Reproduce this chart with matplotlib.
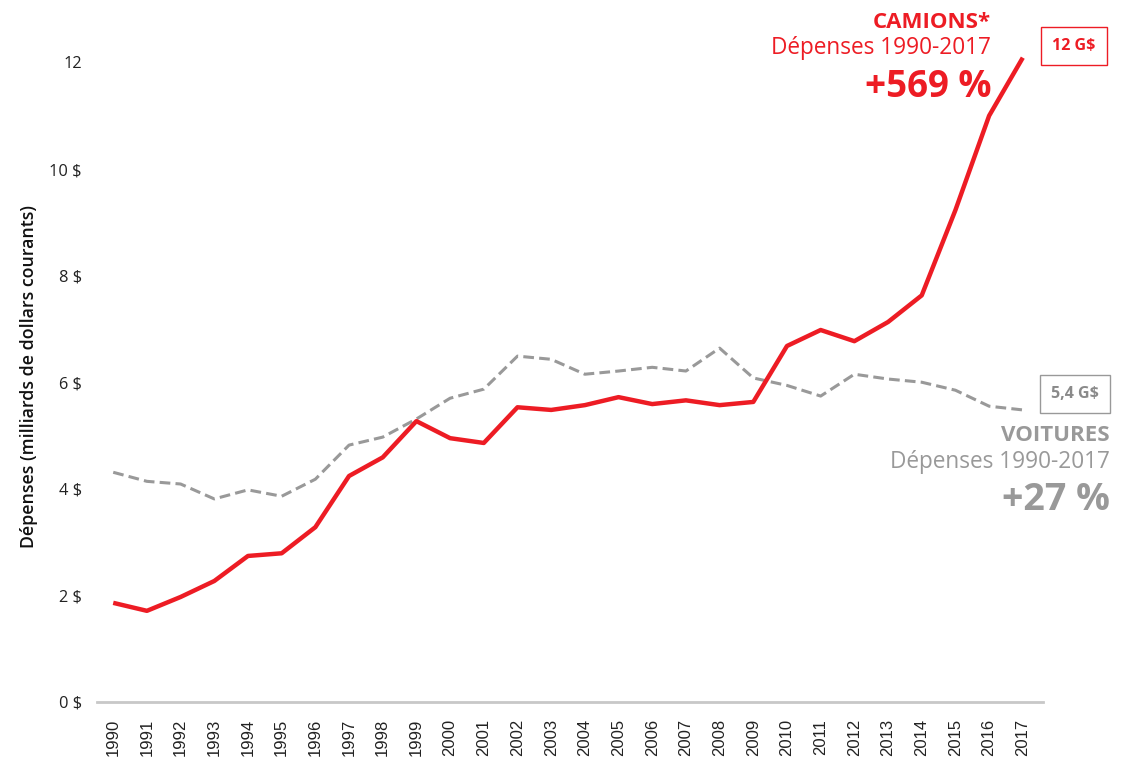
import numpy as np
import matplotlib.pyplot as plt
from matplotlib.ticker import FixedLocator

# Données (milliards de dollars courants)
annees = list(range(1990, 2018))
camions = [1.86, 1.71, 1.97, 2.27, 2.74, 2.79, 3.28, 4.24, 4.59, 5.27,
           4.95, 4.86, 5.53, 5.48, 5.57, 5.72, 5.59, 5.66, 5.57, 5.63,
           6.68, 6.98, 6.77, 7.13, 7.63, 9.23, 11.0, 12.09]
voitures = [4.31, 4.14, 4.09, 3.81, 3.98, 3.86, 4.18, 4.82, 4.97, 5.31,
            5.70, 5.87, 6.49, 6.43, 6.15, 6.21, 6.28, 6.21, 6.64, 6.08,
            5.94, 5.74, 6.15, 6.06, 6.00, 5.85, 5.55, 5.48]
y_ticks = [0, 2, 4, 6, 8, 10, 12]
y_labels = ['0 $', '2 $', '4 $', '6 $', '8 $', '10 $', '12']

rouge = '#ED1C24'
gris = '#999999'

plt.rcParams['font.family'] = ['Open Sans', 'DejaVu Sans']

fig = plt.figure(figsize=(11.22, 7.66), dpi=100)
ax = fig.add_axes([0.0865, 0.0836, 0.8431, 0.9044])

ax.plot(annees, voitures, color=gris, lw=2.2, ls=(0, (3.5, 1.7)))
ax.plot(annees, camions, color=rouge, lw=3.2, solid_capstyle='butt')

ax.set_xlim(1989.52, 2017.6)
ax.set_ylim(0, 13)

for s in ['top', 'right', 'left']:
    ax.spines[s].set_visible(False)
ax.spines['bottom'].set_color('#c8c8c8')
ax.spines['bottom'].set_linewidth(2)

ax.set_xticks(annees)
ax.set_xticklabels([str(a) for a in annees], rotation=90,
                   fontfamily='Liberation Sans', fontsize=12, color='#222222')
ax.yaxis.set_major_locator(FixedLocator(y_ticks))
ax.set_yticklabels(y_labels, fontsize=11.8, color='#222222')
ax.tick_params(axis='both', length=0)
ax.tick_params(axis='x', pad=12)
ax.tick_params(axis='y', pad=11)

ax.set_ylabel('Dépenses (milliards de dollars courants)', fontsize=12.8,
              fontweight='semibold', color='#111111')
ax.yaxis.set_label_coords(-0.062, 0.47)


def px(x, y):
    return x / 1122, 1 - y / 766


# Annotations camions
fig.text(*px(991, 22), 'CAMIONS*', color=rouge, fontsize=16, fontweight='bold',
         ha='right', va='center')
fig.text(*px(991, 48), 'Dépenses 1990-2017', color=rouge, fontsize=16.3,
         ha='right', va='center')
fig.text(*px(991, 87), '+569 %', color=rouge, fontsize=26.5, fontweight='bold',
         ha='right', va='center')
fig.text(*px(1074, 46), '12 G$', color=rouge, fontsize=11.5, fontweight='bold',
         ha='center', va='center',
         bbox=dict(boxstyle='square,pad=0.7', fc='white', ec=rouge, lw=1))

# Annotations voitures
fig.text(*px(1075, 394), '5,4 G$', color='#8a8a8a', fontsize=11.5, fontweight='bold',
         ha='center', va='center',
         bbox=dict(boxstyle='square,pad=0.7', fc='white', ec=gris, lw=1))
fig.text(*px(1110, 436), 'VOITURES', color=gris, fontsize=16, fontweight='bold',
         ha='right', va='center')
fig.text(*px(1110, 462), 'Dépenses 1990-2017', color=gris, fontsize=16.3,
         ha='right', va='center')
fig.text(*px(1110, 500), '+27 %', color=gris, fontsize=27, fontweight='bold',
         ha='right', va='center')

fig.savefig('out.png', dpi=100)
